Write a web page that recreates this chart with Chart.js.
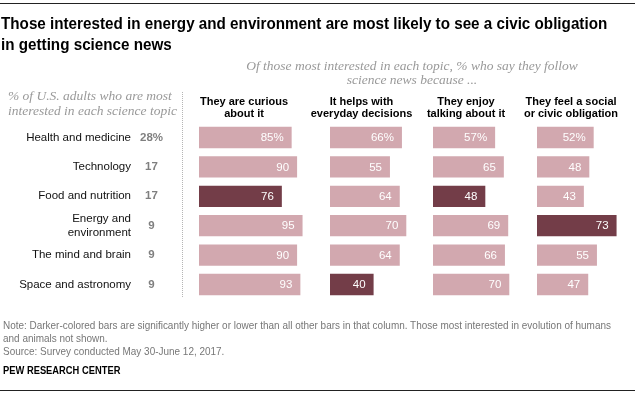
<!DOCTYPE html>
<html><head><meta charset="utf-8">
<script src="https://cdn.jsdelivr.net/npm/chart.js@4.4.1/dist/chart.umd.min.js"></script>
<style>
html,body{margin:0;padding:0;background:#fff;}
#wrap{position:relative;width:640px;height:394px;overflow:hidden;font-family:"Liberation Sans",Arial,sans-serif;}
#c{position:absolute;left:0;top:0;}
.abs{position:absolute;white-space:nowrap;transform-origin:0 0;}
.rule{position:absolute;left:0;width:635px;height:1px;background:#222;}
#title{left:1px;top:12.8px;font-family:"Liberation Sans",Arial,sans-serif;font-weight:bold;font-size:17px;line-height:21px;color:#000;transform:scaleX(0.895);}
#super{left:212px;width:400px;top:59px;text-align:center;font-family:"Liberation Serif",serif;font-style:italic;font-size:13.5px;line-height:14px;color:#999;}
#leftnote{left:8px;top:88px;font-family:"Liberation Serif",serif;font-style:italic;font-size:13.5px;line-height:15px;color:#999;}
#dots{left:182px;top:92px;height:205px;border-left:1px dotted #b5b5b5;}
#notes{left:3px;top:318.5px;font-family:"Liberation Sans",Arial,sans-serif;font-size:11px;line-height:13px;color:#777;transform:scaleX(0.905);}
#pew{left:3px;top:364.5px;font-family:"Liberation Sans",Arial,sans-serif;font-weight:bold;font-size:10px;line-height:12px;color:#000;transform:scaleX(0.935);}
</style></head>
<body>
<div id="wrap">
<canvas id="c" width="640" height="394"></canvas>
<div class="rule" style="top:3px"></div>
<div id="title" class="abs">Those interested in energy and environment are most likely to see a civic obligation<br>in getting science news</div>
<div id="super" class="abs">Of those most interested in each topic, % who say they follow<br>science news because ...</div>
<div id="leftnote" class="abs">% of U.S. adults who are most<br>interested in each science topic</div>
<div id="dots" class="abs"></div>
<div id="notes" class="abs">Note: Darker-colored bars are significantly higher or lower than all other bars in that column. Those most interested in evolution of humans<br>and animals not shown.<br>Source: Survey conducted May 30-June 12, 2017.</div>
<div id="pew" class="abs">PEW RESEARCH CENTER</div>
<div class="rule" style="top:390px"></div>
</div>
<script>
// ---- data ----
const categories = ['Health and medicine', 'Technology', 'Food and nutrition', ['Energy and', 'environment'], 'The mind and brain', 'Space and astronomy'];
const shareLabels = ['28%', '17', '17', '9', '9', '9'];
const columnHeaders = [['They are curious', 'about it'], ['It helps with', 'everyday decisions'], ['They enjoy', 'talking about it'], ['They feel a social', 'or civic obligation']];
const curious = [85, 90, 76, 95, 90, 93];
const decisions = [66, 55, 64, 70, 64, 40];
const talking = [57, 65, 48, 69, 66, 70];
const civic = [52, 48, 43, 73, 55, 47];
const significant = [[2], [5], [2], [3]]; // darker bars (row index) per column

// ---- layout / style ----
const LIGHT = '#d2a8af', DARK = '#733d48';
const FONT = '"Liberation Sans", Arial, sans-serif';
const columns = [curious, decisions, talking, civic];
const colLeft = [181, 307, 416, 516], colZero = [199, 330, 433, 537], colRight = [307, 416, 516, 626];
const pxPerUnit = 1.09;

const scales = {
  y: {
    type: 'category', axis: 'y', position: 'left', weight: 1, offset: true,
    grid: {display: false, drawTicks: false, tickLength: 0}, border: {display: false},
    ticks: {autoSkip: false, padding: 5, color: '#111', font: {family: FONT, size: 11.5, lineHeight: '13.5px'}},
    afterFit(s) { s.width = 136; s.paddingTop = 0; s.paddingBottom = 0; }
  },
  yNum: {
    type: 'category', axis: 'y', position: 'left', weight: 0, offset: true, labels: shareLabels,
    grid: {display: false, drawTicks: false, tickLength: 0}, border: {display: false},
    ticks: {autoSkip: false, padding: 18, crossAlign: 'center', color: '#7f7f7f', font: {family: FONT, size: 11.5, weight: 'bold'}},
    afterFit(s) { s.width = 45; s.paddingTop = 0; s.paddingBottom = 0; }
  }
};
columns.forEach((vals, i) => {
  scales['x' + (i + 1)] = {
    type: 'linear', axis: 'x', position: 'top', stack: 'cols',
    weight: columns.length - i,
    stackWeight: colRight[i] - colLeft[i],
    min: -(colZero[i] - colLeft[i]) / pxPerUnit,
    max: (colRight[i] - colZero[i]) / pxPerUnit,
    grid: {display: false, drawTicks: false, tickLength: 0}, border: {display: false},
    ticks: {display: false},
    title: {display: true, text: columnHeaders[i], color: '#000',
      font: {family: FONT, size: 11, weight: 'bold', lineHeight: '12.5px'},
      padding: {top: 0, bottom: 2.5}}
  };
});

const datasets = columns.map((vals, i) => ({
  data: vals,
  xAxisID: 'x' + (i + 1),
  yAxisID: 'y',
  grouped: false,
  backgroundColor: vals.map((v, r) => significant[i].includes(r) ? DARK : LIGHT),
  borderWidth: 0,
  categoryPercentage: 1,
  barPercentage: 0.725
}));

const valueLabels = {
  id: 'valueLabels',
  afterDatasetsDraw(chart) {
    const ctx = chart.ctx;
    ctx.save();
    ctx.font = '11.5px ' + FONT;
    ctx.fillStyle = '#fff';
    ctx.textAlign = 'right';
    ctx.textBaseline = 'middle';
    chart.data.datasets.forEach((ds, di) => {
      chart.getDatasetMeta(di).data.forEach((bar, r) => {
        ctx.fillText(ds.data[r] + (r === 0 ? '%' : ''), bar.x - 8, bar.y + 0.5);
      });
    });
    ctx.restore();
  }
};

new Chart(document.getElementById('c'), {
  type: 'bar',
  data: {labels: categories, datasets},
  options: {
    indexAxis: 'y',
    responsive: false,
    devicePixelRatio: 1,
    animation: false,
    layout: {padding: {top: 95.3, bottom: 94.8, left: 0, right: 14}},
    plugins: {legend: {display: false}, tooltip: {enabled: false}},
    scales
  },
  plugins: [valueLabels]
});
</script>
</body></html>
